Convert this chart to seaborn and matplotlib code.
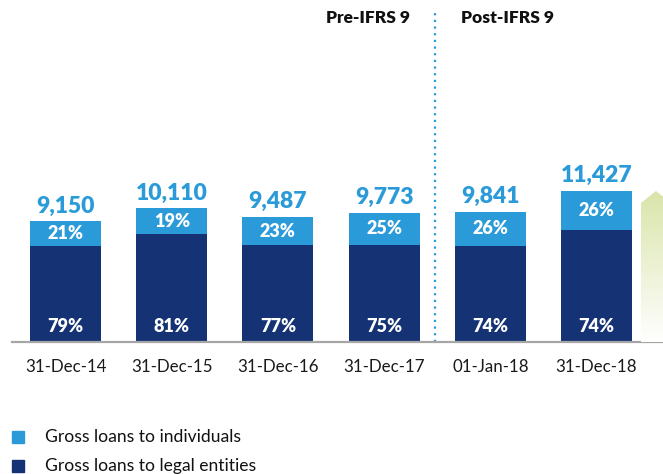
import matplotlib
matplotlib.use("Agg")
import matplotlib.pyplot as plt
import seaborn as sns
import numpy as np
import pandas as pd
from matplotlib.patches import Polygon

# data
dates = ["31-Dec-14", "31-Dec-15", "31-Dec-16", "31-Dec-17", "01-Jan-18", "31-Dec-18"]
totals = [9150, 10110, 9487, 9773, 9841, 11427]
pct_individuals = [21, 19, 23, 25, 26, 26]
pct_legal = [79, 81, 77, 75, 74, 74]
legend_labels = ["Gross loans to individuals", "Gross loans to legal entities"]

light = "#2A9BD8"
dark = "#143274"

sns.set_style("white")
plt.rcParams["font.family"] = ["Lato", "DejaVu Sans"]

df = pd.DataFrame({"date": dates, "total": totals,
                   "legal": [t * p / 100 for t, p in zip(totals, pct_legal)]})

W, H = 663, 474
fig = plt.figure(figsize=(W / 100, H / 100), dpi=100)
# axes: x from 12px to right edge, y from top to baseline at 342px
ax = fig.add_axes([12 / W, 1 - 342 / H, 1 - 12 / W, 342 / H])

sns.barplot(data=df, x="date", y="total", order=dates, color=light,
            width=0.67, saturation=1, linewidth=0, ax=ax)
sns.barplot(data=df, x="date", y="legal", order=dates, color=dark,
            width=0.67, saturation=1, linewidth=0, ax=ax)

ax.set_xlim(-0.504, 5.626)
ax.set_ylim(0, 25870)
ax.set_xlabel("")
ax.set_ylabel("")
ax.set_yticks([])
for s in ["top", "left", "right"]:
    ax.spines[s].set_visible(False)
ax.spines["bottom"].set_color("#A6A6A6")
ax.spines["bottom"].set_linewidth(1.6)
ax.tick_params(axis="x", length=0, labelsize=12.2, pad=12, colors="#1a1a1a")

for i, (t, pi, pl) in enumerate(zip(totals, pct_individuals, pct_legal)):
    ax.text(i, t + 350, f"{t:,}", ha="center", va="bottom", color=light,
            fontsize=16.5, fontweight="heavy")
    ax.text(i, t - t * pi / 200, f"{pi}%", ha="center", va="center",
            color="white", fontsize=13, fontweight="heavy")
    ax.text(i, 1150, f"{pl}%", ha="center", va="center",
            color="white", fontsize=13, fontweight="heavy")

# IFRS 9 divider
ax.plot([3.48, 3.48], [0, 25000], color=light, linestyle=(0, (1, 2)),
        linewidth=1.6, clip_on=False)
fig.text(410 / W, 1 - 18 / H, "Pre-IFRS 9", ha="right", va="center",
         fontsize=12.5, fontweight="heavy", color="#111111")
fig.text(461 / W, 1 - 18 / H, "Post-IFRS 9", ha="left", va="center",
         fontsize=12.5, fontweight="heavy", color="#111111")

# growth arrow on the right, pale green gradient
ov = fig.add_axes([0, 0, 1, 1], facecolor="none")
ov.set_xlim(0, W)
ov.set_ylim(H, 0)
ov.axis("off")
grad = np.linspace(0, 1, 256).reshape(-1, 1)
cmap = matplotlib.colors.LinearSegmentedColormap.from_list("g", ["#D9E4A9", "#FFFFFF"])
im = ov.imshow(grad, cmap=cmap, extent=[641, 675, 342, 190], aspect="auto")
arrow = Polygon([(641, 342), (641, 203), (656, 191), (671, 203), (671, 342)],
                closed=True, transform=ov.transData)
im.set_clip_path(arrow)

# legend
for j, (lab, c) in enumerate(zip(legend_labels, [light, dark])):
    y = 437 + j * 29
    ov.add_patch(plt.Rectangle((12, y - 6), 12, 12, color=c))
    ov.text(45, y, lab, ha="left", va="center", fontsize=12.6, color="#111111")

fig.savefig("out.png", dpi=100)
